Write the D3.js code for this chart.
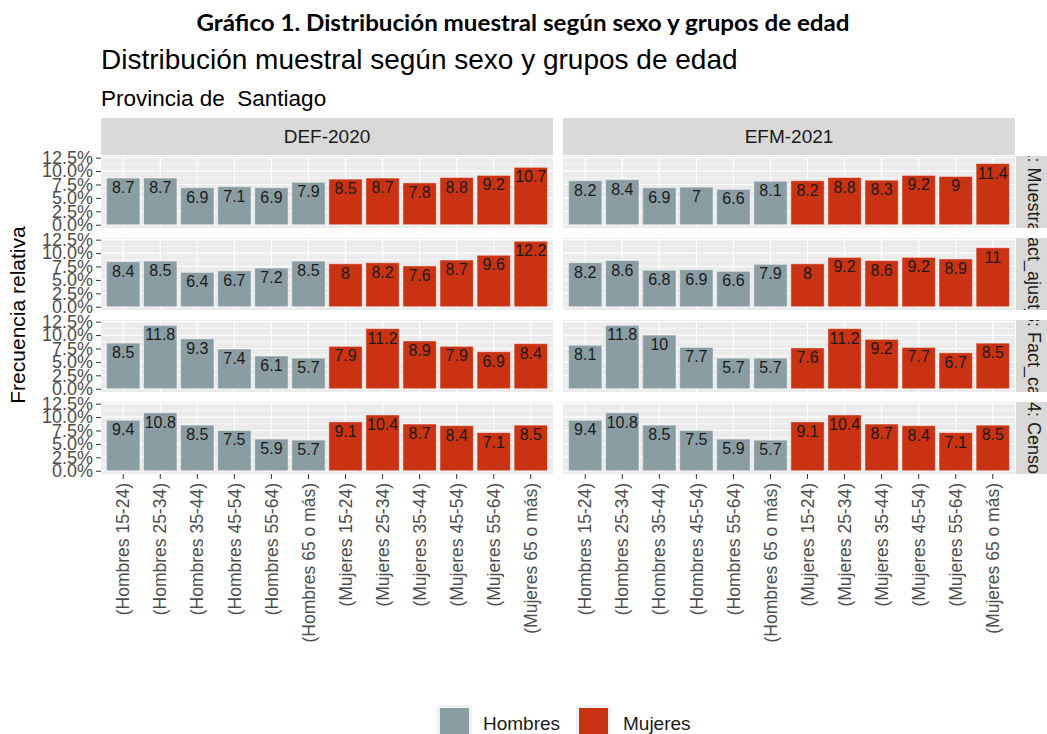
<!DOCTYPE html>
<html lang="es">
<head>
<meta charset="UTF-8">
<title>Distribución muestral</title>
<style>
  body { margin: 0; background: #fff; }
  svg text { font-family: "Liberation Sans", Arial, sans-serif; }
</style>
</head>
<body>
<svg id="chart"></svg>
<script src="https://d3js.org/d3.v7.min.js"></script>
<script>
// data
var periodos = ["DEF-2020", "EFM-2021"];
var escenarios = ["1: Muestral", "2: Fact_ajust_cal", "3: Fact_cal", "4: Censo"];
var grupos = ["(Hombres 15-24)", "(Hombres 25-34)", "(Hombres 35-44)", "(Hombres 45-54)", "(Hombres 55-64)", "(Hombres 65 o más)",
              "(Mujeres 15-24)", "(Mujeres 25-34)", "(Mujeres 35-44)", "(Mujeres 45-54)", "(Mujeres 55-64)", "(Mujeres 65 o más)"];
var sexo = ["Hombres", "Hombres", "Hombres", "Hombres", "Hombres", "Hombres",
            "Mujeres", "Mujeres", "Mujeres", "Mujeres", "Mujeres", "Mujeres"];
var sexos = ["Hombres", "Mujeres"];

var def2020 = [
  [8.7, 8.7, 6.9, 7.1, 6.9, 7.9, 8.5, 8.7, 7.8, 8.8, 9.2, 10.7],
  [8.4, 8.5, 6.4, 6.7, 7.2, 8.5, 8, 8.2, 7.6, 8.7, 9.6, 12.2],
  [8.5, 11.8, 9.3, 7.4, 6.1, 5.7, 7.9, 11.2, 8.9, 7.9, 6.9, 8.4],
  [9.4, 10.8, 8.5, 7.5, 5.9, 5.7, 9.1, 10.4, 8.7, 8.4, 7.1, 8.5]
];
var efm2021 = [
  [8.2, 8.4, 6.9, 7, 6.6, 8.1, 8.2, 8.8, 8.3, 9.2, 9, 11.4],
  [8.2, 8.6, 6.8, 6.9, 6.6, 7.9, 8, 9.2, 8.6, 9.2, 8.9, 11],
  [8.1, 11.8, 10, 7.7, 5.7, 5.7, 7.6, 11.2, 9.2, 7.7, 6.7, 8.5],
  [9.4, 10.8, 8.5, 7.5, 5.9, 5.7, 9.1, 10.4, 8.7, 8.4, 7.1, 8.5]
];
var yTicks = [0, 2.5, 5, 7.5, 10, 12.5];
var yMinor = [1.25, 3.75, 6.25, 8.75, 11.25];

var valores = [def2020, efm2021];

// layout
var width = 1047, height = 734;
var panelX = [101, 563], panelW = 452;
var panelTop = 156, panelH = 72, panelStep = 82;
var stripH = 37;

var svg = d3.select("#chart").attr("width", width).attr("height", height);

var color = d3.scaleOrdinal().domain(sexos).range(["#8a9da3", "#c93212"]);

var x = d3.scaleBand().domain(grupos).range([0, panelW]).paddingInner(0.1).paddingOuter(0.15);
var ymax = d3.max(valores.flat(2));
var y = d3.scaleLinear().domain([-0.05 * ymax, ymax * 1.05]).range([panelH, 0]);

// titles
svg.append("text").attr("x", 523).attr("y", 31).attr("text-anchor", "middle")
  .attr("textLength", 653).attr("lengthAdjust", "spacingAndGlyphs")
  .style("font-family", "Lato, 'Open Sans', sans-serif").style("font-weight", "bold").style("font-size", "22px")
  .text("Gráfico 1. Distribución muestral según sexo y grupos de edad");
svg.append("text").attr("x", 101).attr("y", 69).style("font-size", "28px").attr("fill", "#000")
  .text("Distribución muestral según sexo y grupos de edad");
svg.append("text").attr("x", 101).attr("y", 106).style("font-size", "22.5px").attr("fill", "#000")
  .style("white-space", "pre")
  .text("Provincia de  Santiago");

// y axis title
svg.append("text").attr("transform", "translate(25," + (panelTop + (3 * panelStep + panelH) / 2) + ") rotate(-90)")
  .attr("text-anchor", "middle").style("font-size", "21px").text("Frecuencia relativa");

var defs = svg.append("defs");

periodos.forEach(function (p, pi) {
  var px = panelX[pi];
  // top strip
  svg.append("rect").attr("x", px).attr("y", panelTop - stripH - 1).attr("width", panelW).attr("height", stripH)
    .attr("fill", "#d9d9d9");
  svg.append("text").attr("x", px + panelW / 2).attr("y", panelTop - 1 - stripH / 2).attr("dy", "0.35em")
    .attr("text-anchor", "middle").style("font-size", "19px").attr("fill", "#1a1a1a").text(p);

  escenarios.forEach(function (e, ei) {
    var py = panelTop + ei * panelStep;
    var g = svg.append("g").attr("transform", "translate(" + px + "," + py + ")");
    g.append("rect").attr("width", panelW).attr("height", panelH).attr("fill", "#ebebeb");

    g.selectAll(".minor").data(yMinor).enter().append("line")
      .attr("x1", 0).attr("x2", panelW).attr("y1", d => y(d)).attr("y2", d => y(d))
      .attr("stroke", "#fff").attr("stroke-width", 0.6);
    g.selectAll(".major").data(yTicks).enter().append("line")
      .attr("x1", 0).attr("x2", panelW).attr("y1", d => y(d)).attr("y2", d => y(d))
      .attr("stroke", "#fff").attr("stroke-width", 1.2);
    g.selectAll(".vgrid").data(grupos).enter().append("line")
      .attr("x1", d => x(d) + x.bandwidth() / 2).attr("x2", d => x(d) + x.bandwidth() / 2)
      .attr("y1", 0).attr("y2", panelH).attr("stroke", "#fff").attr("stroke-width", 1.2);

    var vals = valores[pi][ei];
    g.selectAll(".bar").data(vals).enter().append("rect")
      .attr("x", (d, i) => x(grupos[i]))
      .attr("width", x.bandwidth())
      .attr("y", d => y(d))
      .attr("height", d => y(0) - y(d))
      .attr("fill", (d, i) => color(sexo[i]))
      .attr("stroke", "rgba(255,255,255,0.45)").attr("stroke-width", 1);

    g.selectAll(".lab").data(vals).enter().append("text")
      .attr("x", (d, i) => x(grupos[i]) + x.bandwidth() / 2)
      .attr("y", d => y(d) + 15)
      .attr("text-anchor", "middle").style("font-size", "16px").attr("fill", "#1a1a1a")
      .text(d => d);

    // y axis only on left column
    if (pi === 0) {
      var ax = svg.append("g").attr("transform", "translate(" + px + "," + py + ")")
        .call(d3.axisLeft(y).tickValues(yTicks).tickSize(5).tickPadding(3).tickFormat(d3.format(".1f")))
        .call(s => s.select(".domain").remove());
      ax.selectAll("text").text(d => d3.format(".1f")(d) + "%")
        .style("font-size", "18px").attr("fill", "#4d4d4d").style("font-family", "'Liberation Sans', Arial, sans-serif");
      ax.selectAll("line").attr("stroke", "#333");
    }

    // right strip on right column
    if (pi === 1) {
      var sx = px + panelW + 1;
      var cid = "clip" + ei;
      defs.append("clipPath").attr("id", cid).append("rect")
        .attr("x", sx).attr("y", py).attr("width", stripH).attr("height", panelH);
      svg.append("rect").attr("x", sx).attr("y", py).attr("width", stripH).attr("height", panelH).attr("fill", "#d9d9d9");
      svg.append("g").attr("clip-path", "url(#" + cid + ")")
        .append("text").attr("transform", "translate(" + (sx + stripH / 2) + "," + (py + panelH / 2) + ") rotate(90)")
        .attr("text-anchor", "middle").attr("dy", "0.35em").style("font-size", "18px").attr("fill", "#1a1a1a")
        .text(e);
    }
  });

  // x axis
  var bottom = panelTop + 3 * panelStep + panelH;
  var xa = svg.append("g").attr("transform", "translate(" + px + "," + bottom + ")")
    .call(d3.axisBottom(x).tickSize(5).tickPadding(4))
    .call(s => s.select(".domain").remove());
  xa.selectAll("line").attr("stroke", "#333");
  xa.selectAll("text")
    .attr("transform", "rotate(-90)")
    .attr("text-anchor", "end").attr("x", -9).attr("y", 0).attr("dy", "0.35em")
    .style("font-size", "17.5px").attr("fill", "#4d4d4d").style("font-family", "'Liberation Sans', Arial, sans-serif");
});

// legend
var leg = svg.append("g");
var legX = [437, 576], legTxt = [483, 623];
sexos.forEach(function (s, i) {
  leg.append("rect").attr("x", legX[i]).attr("y", 705).attr("width", 35).attr("height", 35).attr("fill", "#f2f2f2");
  leg.append("rect").attr("x", legX[i] + 3).attr("y", 708).attr("width", 29).attr("height", 29).attr("fill", color(s));
  leg.append("text").attr("x", legTxt[i]).attr("y", 730).style("font-size", "19px").attr("fill", "#1a1a1a").text(s);
});
</script>
</body>
</html>
